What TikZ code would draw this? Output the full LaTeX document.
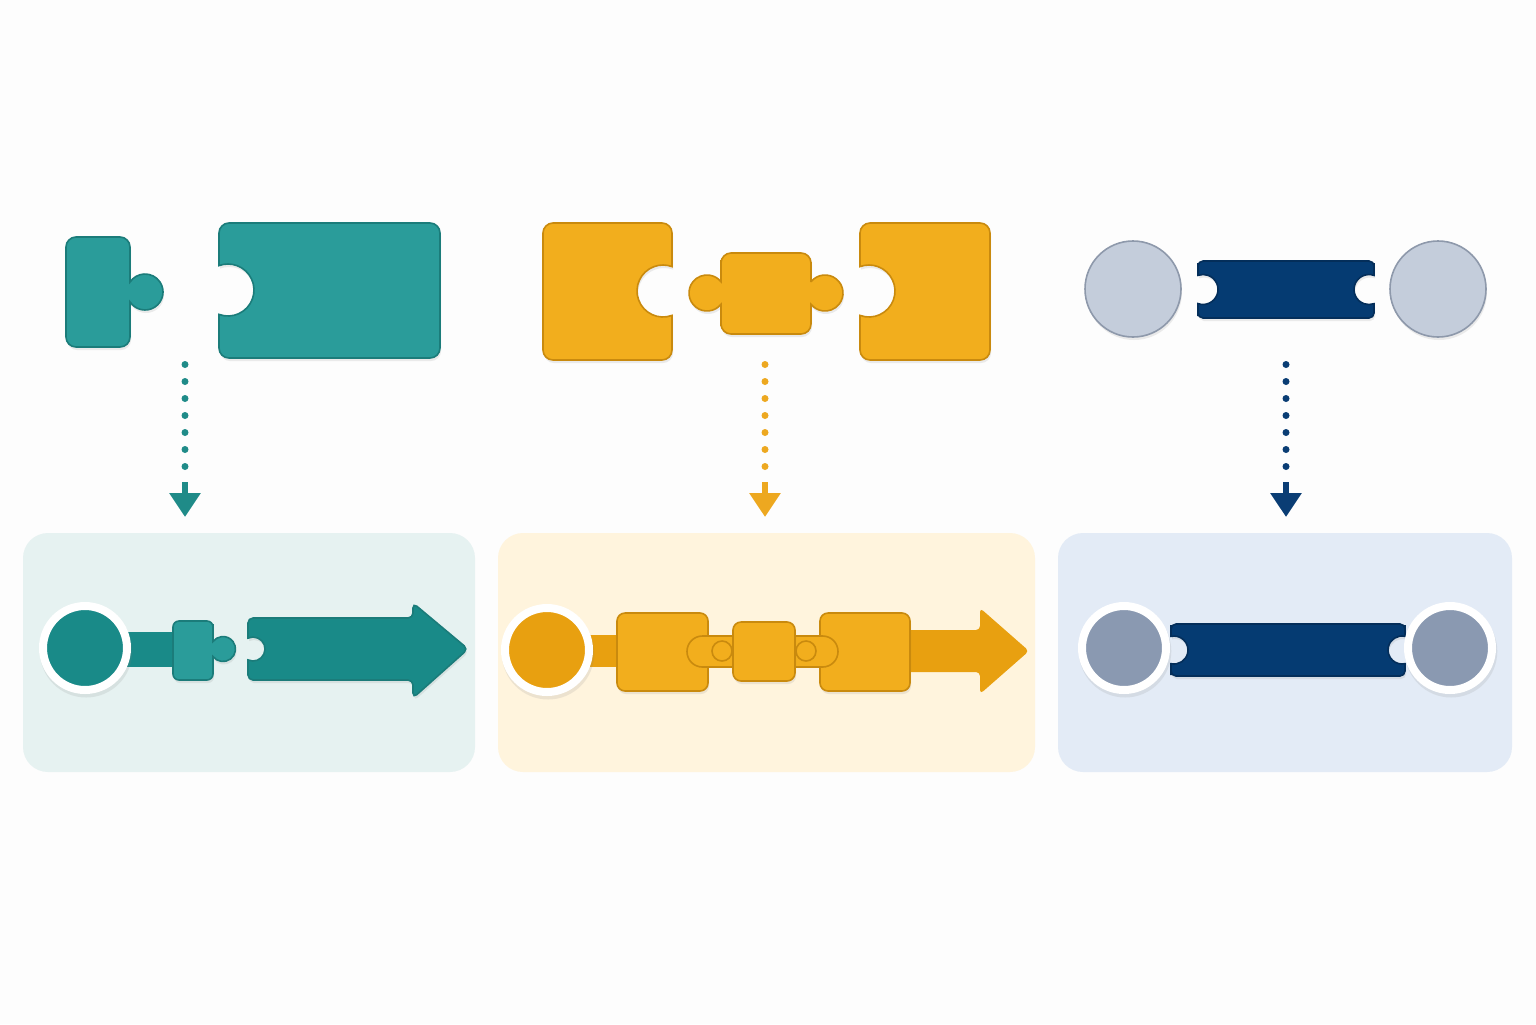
\documentclass[tikz,border=0pt]{standalone}
\usetikzlibrary{arrows.meta,shadows}
\definecolor{pagebg}{HTML}{FDFDFD}
\definecolor{tealA}{HTML}{2A9C9A}
\definecolor{tealB}{HTML}{198A88}
\definecolor{tealD}{HTML}{1B7C7A}
\definecolor{tealF}{HTML}{1F8B88}
\definecolor{tealL}{HTML}{E6F2F1}
\definecolor{amberA}{HTML}{F2AE1D}
\definecolor{amberB}{HTML}{E8A010}
\definecolor{amberD}{HTML}{C98A0E}
\definecolor{amberF}{HTML}{EDA820}
\definecolor{amberL}{HTML}{FFF4DD}
\definecolor{navy}{HTML}{053B72}
\definecolor{navyD}{HTML}{042E5A}
\definecolor{navyF}{HTML}{0A3D74}
\definecolor{blueL}{HTML}{E3EBF6}
\definecolor{greyA}{HTML}{C4CDDB}
\definecolor{greyD}{HTML}{8E99AB}
\definecolor{greyB}{HTML}{8A99B1}
\begin{document}
\begin{tikzpicture}[x=0.5pt,y=0.5pt,
    piece/.style={line width=0.8pt, rounded corners=5pt},
    softshadow/.style={drop shadow={opacity=0.15, shadow xshift=0.5pt, shadow yshift=-1.5pt}},
    panel/.style={rounded corners=12.5pt},
    topdisc/.style={circle, inner sep=0pt, minimum size=48pt, fill=greyA, draw=greyD, line width=0.8pt, softshadow},
    ringdisc/.style={circle, inner sep=0pt, minimum size=42pt, draw=white, line width=4pt,
      drop shadow={opacity=0.15, shadow xshift=0.5pt, shadow yshift=-1.5pt, shadow scale=1.1}},
    dotflow/.style={line width=3.5pt, line cap=round, dash pattern=on 0pt off 8.5pt},
    flowtip/.style={line width=3pt, -{Triangle[width=15pt,length=12pt]}}]

  \fill[pagebg] (0,0) rectangle (1536,-1024);
  \useasboundingbox (0,0) rectangle (1536,-1024);

  \fill[panel, tealL] (23,-533) rectangle (475,-772);
  \fill[panel, amberL] (498,-533) rectangle (1035,-772);
  \fill[panel, blueL] (1058,-533) rectangle (1512,-772);

  % top row
  \draw[piece, fill=tealA, draw=tealD, softshadow] (130,-260) |- (66,-237) |- (130,-347) -- (130,-320)
    [sharp corners] -- (130,-301.9) arc[start angle=-146.6, end angle=146.6, radius=18] -- (130,-270)
    [rounded corners=5pt] -- cycle;
  \draw[piece, fill=tealA, draw=tealD, softshadow] (219,-250) |- (440,-223) |- (219,-358) -- (219,-330)
    [sharp corners] -- (219,-314.4) arc[start angle=-110.2, end angle=110.2, radius=26] -- (219,-260)
    [rounded corners=5pt] -- cycle;

  \draw[piece, fill=amberA, draw=amberD, softshadow] (672,-250) |- (543,-223) |- (672,-360) -- (672,-330)
    [sharp corners] -- (672,-315.4) arc[start angle=-69.8, end angle=-290.2, radius=26] -- (672,-260)
    [rounded corners=5pt] -- cycle;
  \draw[piece, fill=amberA, draw=amberD, softshadow] (721,-270) |- (811,-253) -- (811,-272)
    [sharp corners] -- (811,-281.7) arc[start angle=141.1, end angle=-141.1, radius=18] -- (811,-316)
    [rounded corners=5pt] |- (721,-334) -- (721,-316)
    [sharp corners] -- (721,-304.3) arc[start angle=-38.9, end angle=-321.1, radius=18] -- (721,-276)
    [rounded corners=5pt] -- cycle;
  \draw[piece, fill=amberA, draw=amberD, softshadow] (860,-250) |- (990,-223) |- (860,-360) -- (860,-330)
    [sharp corners] -- (860,-315.4) arc[start angle=-110.2, end angle=110.2, radius=26] -- (860,-260)
    [rounded corners=5pt] -- cycle;

  \node[topdisc] (lhub) at (1133,-289) {};
  \node[topdisc] (rhub) at (1438,-289) {};
  \draw[piece, rounded corners=2.5pt, fill=navy, draw=navyD, softshadow] (1198,-268) |- (1374,-261) -- (1374,-268)
    [sharp corners] -- (1374,-275.4) arc[start angle=70.5, end angle=289.5, radius=15] -- (1374,-311)
    [rounded corners=2.5pt] |- (1198,-318) -- (1198,-311)
    [sharp corners] -- (1198,-303.6) arc[start angle=-109.5, end angle=109.5, radius=15] -- (1198,-272)
    [rounded corners=2.5pt] -- cycle;

  % dotted flows
  \coordinate (tealsrc) at (185,-364.5);
  \coordinate (tealdot) at (185,-466.5);
  \coordinate (tealstem) at (185,-482);
  \coordinate (tealend) at (185,-517);
  \coordinate (ambersrc) at (765,-364.5);
  \coordinate (amberdot) at (765,-466.5);
  \coordinate (amberstem) at (765,-482);
  \coordinate (amberend) at (765,-517);
  \coordinate (navysrc) at (1286,-364.5);
  \coordinate (navydot) at (1286,-466.5);
  \coordinate (navystem) at (1286,-482);
  \coordinate (navyend) at (1286,-517);

  \draw[dotflow, tealF] (tealsrc) -- (tealdot);
  \draw[flowtip, tealF] (tealstem) -- (tealend);
  \draw[dotflow, amberF] (ambersrc) -- (amberdot);
  \draw[flowtip, amberF] (amberstem) -- (amberend);
  \draw[dotflow, navyF] (navysrc) -- (navydot);
  \draw[flowtip, navyF] (navystem) -- (navyend);

  % bottom row
  \fill[tealB] (120,-632) rectangle (180,-667);
  \node[ringdisc, fill=tealB] (tealhub) at (85,-648) {};
  \draw[piece, rounded corners=3pt, fill=tealA, draw=tealD, softshadow] (213,-630) |- (173,-621) |- (213,-680) -- (213,-668)
    [sharp corners] -- (213,-656.5) arc[start angle=-143.13, end angle=143.13, radius=12.5] -- (213,-634)
    [rounded corners=3pt] -- cycle;
  \draw[piece, rounded corners=2.5pt, fill=tealB, draw=tealD, softshadow] (248,-628) |- (413,-618) -- (413,-603) -- (468,-649)
    -- (413,-698) -- (413,-680) -| (248,-670)
    [sharp corners] -- (248,-659.9) arc[start angle=-114.6, end angle=114.6, radius=12] -- (248,-632)
    [rounded corners=2.5pt] -- cycle;

  \fill[amberB] (580,-635) rectangle (905,-667);
  \fill[amberB, rounded corners=2pt] (900,-630) -- (980,-630) -- (980,-608) -- (1029,-651) -- (980,-694) -- (980,-672)
    -- (900,-672) -- cycle;
  \node[ringdisc, fill=amberB] (amberhub) at (547,-650) {};
  \draw[piece, rounded corners=4pt, fill=amberA, draw=amberD, softshadow] (617,-613) rectangle (708,-691);
  \draw[piece, rounded corners=4pt, fill=amberA, draw=amberD, softshadow] (820,-613) rectangle (910,-691);
  \draw[fill=amberA, draw=amberD, line width=0.8pt, rounded corners=7.7pt] (687,-636) rectangle (838,-667);
  \draw[fill=amberA, draw=amberD, line width=0.8pt] (722,-651) circle[radius=10];
  \draw[fill=amberA, draw=amberD, line width=0.8pt] (806,-651) circle[radius=10];
  \draw[piece, rounded corners=4pt, fill=amberA, draw=amberD, softshadow] (733,-622) rectangle (795,-681);

  \draw[piece, rounded corners=2.5pt, fill=navy, draw=navyD, softshadow] (1171,-630) |- (1405,-624) -- (1405,-630)
    [sharp corners] -- (1405,-636.3) arc[start angle=77.6, end angle=282.4, radius=14] -- (1405,-670)
    [rounded corners=2.5pt] |- (1171,-676) -- (1171,-670)
    [sharp corners] -- (1171,-663.7) arc[start angle=-102.4, end angle=102.4, radius=14] -- (1171,-632)
    [rounded corners=2.5pt] -- cycle;
  \node[ringdisc, fill=greyB] (leftcap) at (1124,-648) {};
  \node[ringdisc, fill=greyB] (rightcap) at (1450,-648) {};
\end{tikzpicture}
\end{document}
